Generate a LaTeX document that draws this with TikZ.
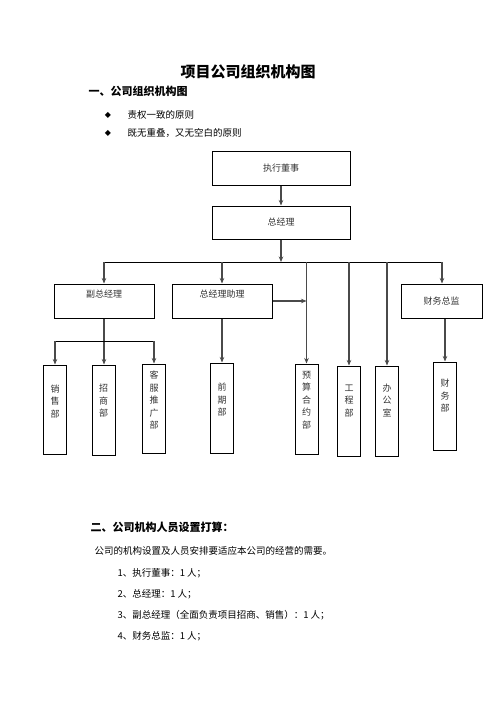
\documentclass[tikz,border=0pt]{standalone}
\usepackage{fontspec}
\usepackage{xcolor}
\usepackage{tikz}
\usetikzlibrary{arrows.meta, positioning, calc}
\newfontfamily\cjk{Noto Sans CJK SC}
\newfontfamily\symfont{DejaVu Sans}
\definecolor{orgline}{HTML}{4A4A4A}
\definecolor{orgtext}{HTML}{333333}

\begin{document}
\begin{tikzpicture}[x=1pt, y=-1pt,
  box/.style={draw=black, line width=1pt, fill=white, minimum height=34pt,
    inner sep=0pt, font=\cjk\fontsize{9}{11}\selectfont, text=orgtext},
  tallbox/.style={draw=black, line width=1pt, fill=white, minimum width=23pt,
    minimum height=90pt, inner sep=0pt},
  vtext/.style={align=center, font=\cjk\fontsize{9}{12.5}\selectfont, text=orgtext},
  arrow/.style={-{Stealth[length=5.5pt, width=4.5pt]}, line width=1.2pt, draw=orgline},
  bus/.style={line width=0.9pt, draw=black},
  heading/.style={anchor=west, font=\cjk\bfseries\fontsize{11}{13}\selectfont},
  body/.style={anchor=west, font=\cjk\fontsize{9.5}{12}\selectfont}]
  \useasboundingbox (0,0) rectangle (496,702);

  \node[font=\cjk\bfseries\fontsize{15}{18}\selectfont] (title) at (248,72) {项目公司组织机构图};
  \node[heading] (head1) at (85,91) {一、公司组织机构图};
  \node[font=\symfont\fontsize{8}{10}\selectfont] (dot1) at (108,115) {◆};
  \node[body] (rule1) at (124,115) {责权一致的原则};
  \node[font=\symfont\fontsize{8}{10}\selectfont] (dot2) at (108,133) {◆};
  \node[body] (rule2) at (124,133) {既无重叠，又无空白的原则};

  \node[box, minimum width=138pt] (exec) at (281,168.5) {执行董事};
  \node[box, minimum width=138pt, minimum height=33pt] (gm) at (281,222.5) {总经理};
  \node[box, minimum width=100pt, label={[vtext, yshift=7pt]center:副总经理}] (vp) at (104,301) {};
  \node[box, minimum width=100pt, label={[vtext, yshift=7pt]center:总经理助理}] (asst) at (222,301) {};
  \node[box, minimum width=81pt] (cfo) at (441.5,301) {财务总监};

  \node[tallbox, minimum height=89pt, label={[vtext, yshift=8pt]center:销\\售\\部}] (sales) at (55,409.5) {};
  \node[tallbox, label={[vtext, yshift=9pt]center:招\\商\\部}] (invest) at (103.5,410) {};
  \node[tallbox, minimum height=89pt, label={[vtext, yshift=8pt]center:客\\服\\推\\广\\部}] (service) at (154,408.5) {};
  \node[tallbox, label={[vtext, yshift=8pt]center:前\\期\\部}] (early) at (222,408) {};
  \node[tallbox, label={[vtext, yshift=9pt]center:预\\算\\合\\约\\部}] (budget) at (306.5,409) {};
  \node[tallbox, label={[vtext, yshift=10pt]center:工\\程\\部}] (eng) at (349,411) {};
  \node[tallbox, label={[vtext, yshift=11pt]center:办\\公\\室}] (office) at (387,411) {};
  \node[tallbox, minimum height=88pt, label={[vtext, yshift=10pt]center:财\\务\\部}] (fin) at (445,406) {};

  \coordinate (busL) at (104,262);
  \coordinate (busR) at (442,262);
  \coordinate (subL) at (55,341);
  \coordinate (subR) at (154,341);

  \draw[arrow] (exec) -- (gm);
  \draw[arrow] (gm.south) -- (gm.south |- busL);
  \draw[bus] (busL) -- (busR);
  \draw[arrow] (busL) -- (vp.north);
  \draw[arrow] (busL -| asst) -- (asst.north);
  \draw[arrow] (busR) -- (busR |- cfo.north);
  \draw[arrow] (busL -| budget) -- (budget.north);
  \draw[arrow] (busL -| eng) -- (eng.north);
  \draw[arrow] (busL -| office) -- (office.north);
  \draw[arrow] (asst.east) -- (asst.east -| budget);

  \draw[arrow] (vp.south) -- (vp.south |- invest.north);
  \draw[bus] (subL) -- (subR);
  \draw[arrow] (subL) -- (sales.north);
  \draw[arrow] (subR) -- (service.north);
  \draw[arrow] (asst.south) -- (early.north);
  \draw[arrow] (cfo.south -| fin) -- (fin.north);

  \node[heading] (head2) at (87,527) {二、公司机构人员设置打算：};
  \node[body] (intro) at (91,551) {公司的机构设置及人员安排要适应本公司的经营的需要。};
  \node[body] (item1) at (114,573) {1、执行董事：1 人；};
  \node[body] (item2) at (114,594) {2、总经理：1 人；};
  \node[body] (item3) at (114,615) {3、副总经理（全面负责项目招商、销售）：1 人；};
  \node[body] (item4) at (114,636) {4、财务总监：1 人；};
\end{tikzpicture}
\end{document}
